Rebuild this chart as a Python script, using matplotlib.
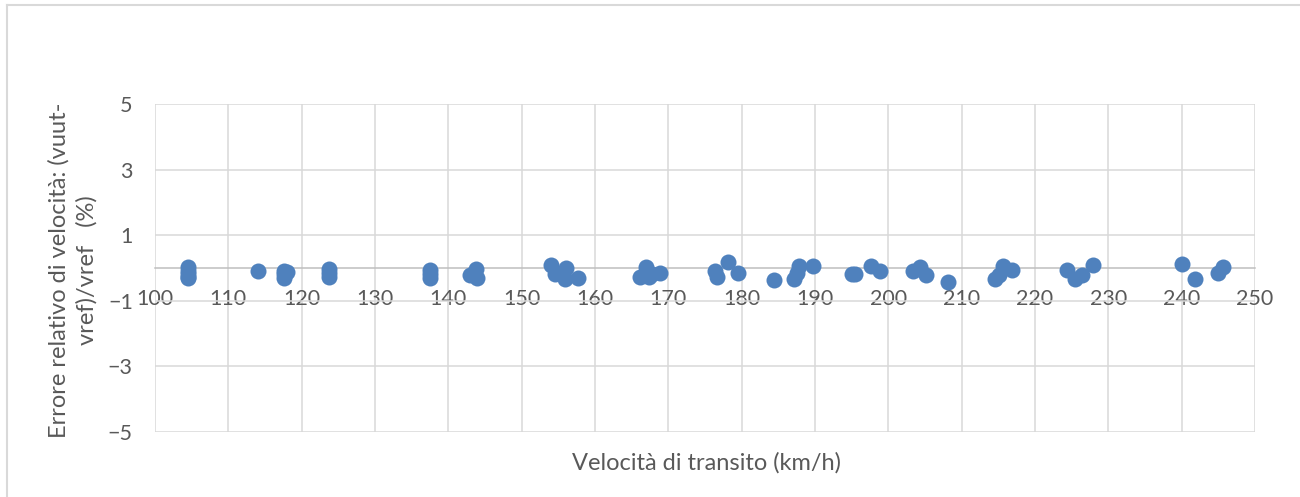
import matplotlib
matplotlib.use('Agg')
import matplotlib.pyplot as plt
from matplotlib.lines import Line2D

plt.rcParams['font.family'] = ['Lato', 'DejaVu Sans']

# transit speed (km/h) and relative speed error (%)
speed = [104.5, 104.5, 104.5, 104.5, 104.5,
         114.0,
         117.6, 117.6, 117.6, 118.0,
         123.7, 123.7, 123.7,
         137.5, 137.5, 137.5,
         143.0, 143.5, 143.8, 143.9,
         154.0, 154.6, 156.1, 155.9, 157.7,
         166.1, 167.0, 167.4, 167.8, 168.8,
         176.3, 176.6, 178.1, 179.5,
         184.4, 187.1, 187.5, 187.8, 189.7,
         195.0, 195.4, 197.7, 198.8,
         203.3, 204.3, 205.2, 208.1,
         214.6, 215.1, 215.7, 216.8,
         224.4, 225.4, 226.4, 227.9,
         240.0, 241.8, 244.9, 245.7]
errore = [0.02, -0.08, -0.18, -0.28, -0.32,
          -0.09,
          -0.08, -0.18, -0.30, -0.12,
          -0.03, -0.15, -0.27,
          -0.05, -0.18, -0.30,
          -0.20, -0.15, -0.03, -0.30,
          0.09, -0.18, 0.0, -0.33, -0.30,
          -0.27, 0.03, -0.27, -0.18, -0.15,
          -0.10, -0.27, 0.18, -0.15,
          -0.37, -0.33, -0.15, 0.06, 0.06,
          -0.18, -0.18, 0.06, -0.10,
          -0.10, 0.03, -0.21, -0.43,
          -0.33, -0.20, 0.06, -0.06,
          -0.05, -0.35, -0.20, 0.08,
          0.12, -0.33, -0.15, 0.03]

x_ticks = list(range(100, 251, 10))
y_ticks = [-5, -3, -1, 1, 3, 5]

text_col = '#595959'
grid_col = '#D9D9D9'

fig = plt.figure(figsize=(13, 4.97), dpi=100)
ax = fig.add_axes([155/1300, 1-432/497, 1100/1300, 328/497])

ax.scatter(speed, errore, s=133, color='#4F81BD', linewidths=0, zorder=3, clip_on=False)

ax.set_xlim(100, 250)
ax.set_ylim(-5, 5)
ax.set_xticks(x_ticks)
ax.set_yticks(y_ticks)
ax.grid(True, color=grid_col, lw=1.1, zorder=0)
ax.set_axisbelow(True)

for key, spine in ax.spines.items():
    spine.set_visible(False)
ax.spines['bottom'].set_visible(True)
ax.spines['bottom'].set_position(('data', 0))
ax.spines['bottom'].set_color('#BFBFBF')
ax.spines['bottom'].set_linewidth(1.1)
ax.spines['bottom'].set_zorder(1)

ax.tick_params(axis='both', length=0, labelsize=15.5, labelcolor=text_col)
ax.tick_params(axis='x', pad=15)
ax.tick_params(axis='y', pad=16)

fig.text(706/1300, 1-463/497, 'Velocità di transito (km/h)', ha='center', va='center',
         fontsize=17, color=text_col)
fig.text(73/1300, 1-270/497, 'Errore relativo di velocità: (vuut-\nvref)/vref   (%)',
         rotation=90, ha='center', va='center', multialignment='center',
         fontsize=17, color=text_col, linespacing=1.4)

# outer frame bits of the screenshot
fig.add_artist(Line2D([7/1300, 1], [1-5/497, 1-5/497], transform=fig.transFigure,
                      color=grid_col, lw=1.5))
fig.add_artist(Line2D([7/1300, 7/1300], [0, 1-5/497], transform=fig.transFigure,
                      color=grid_col, lw=1.5))

fig.savefig('out.png', dpi=100)
